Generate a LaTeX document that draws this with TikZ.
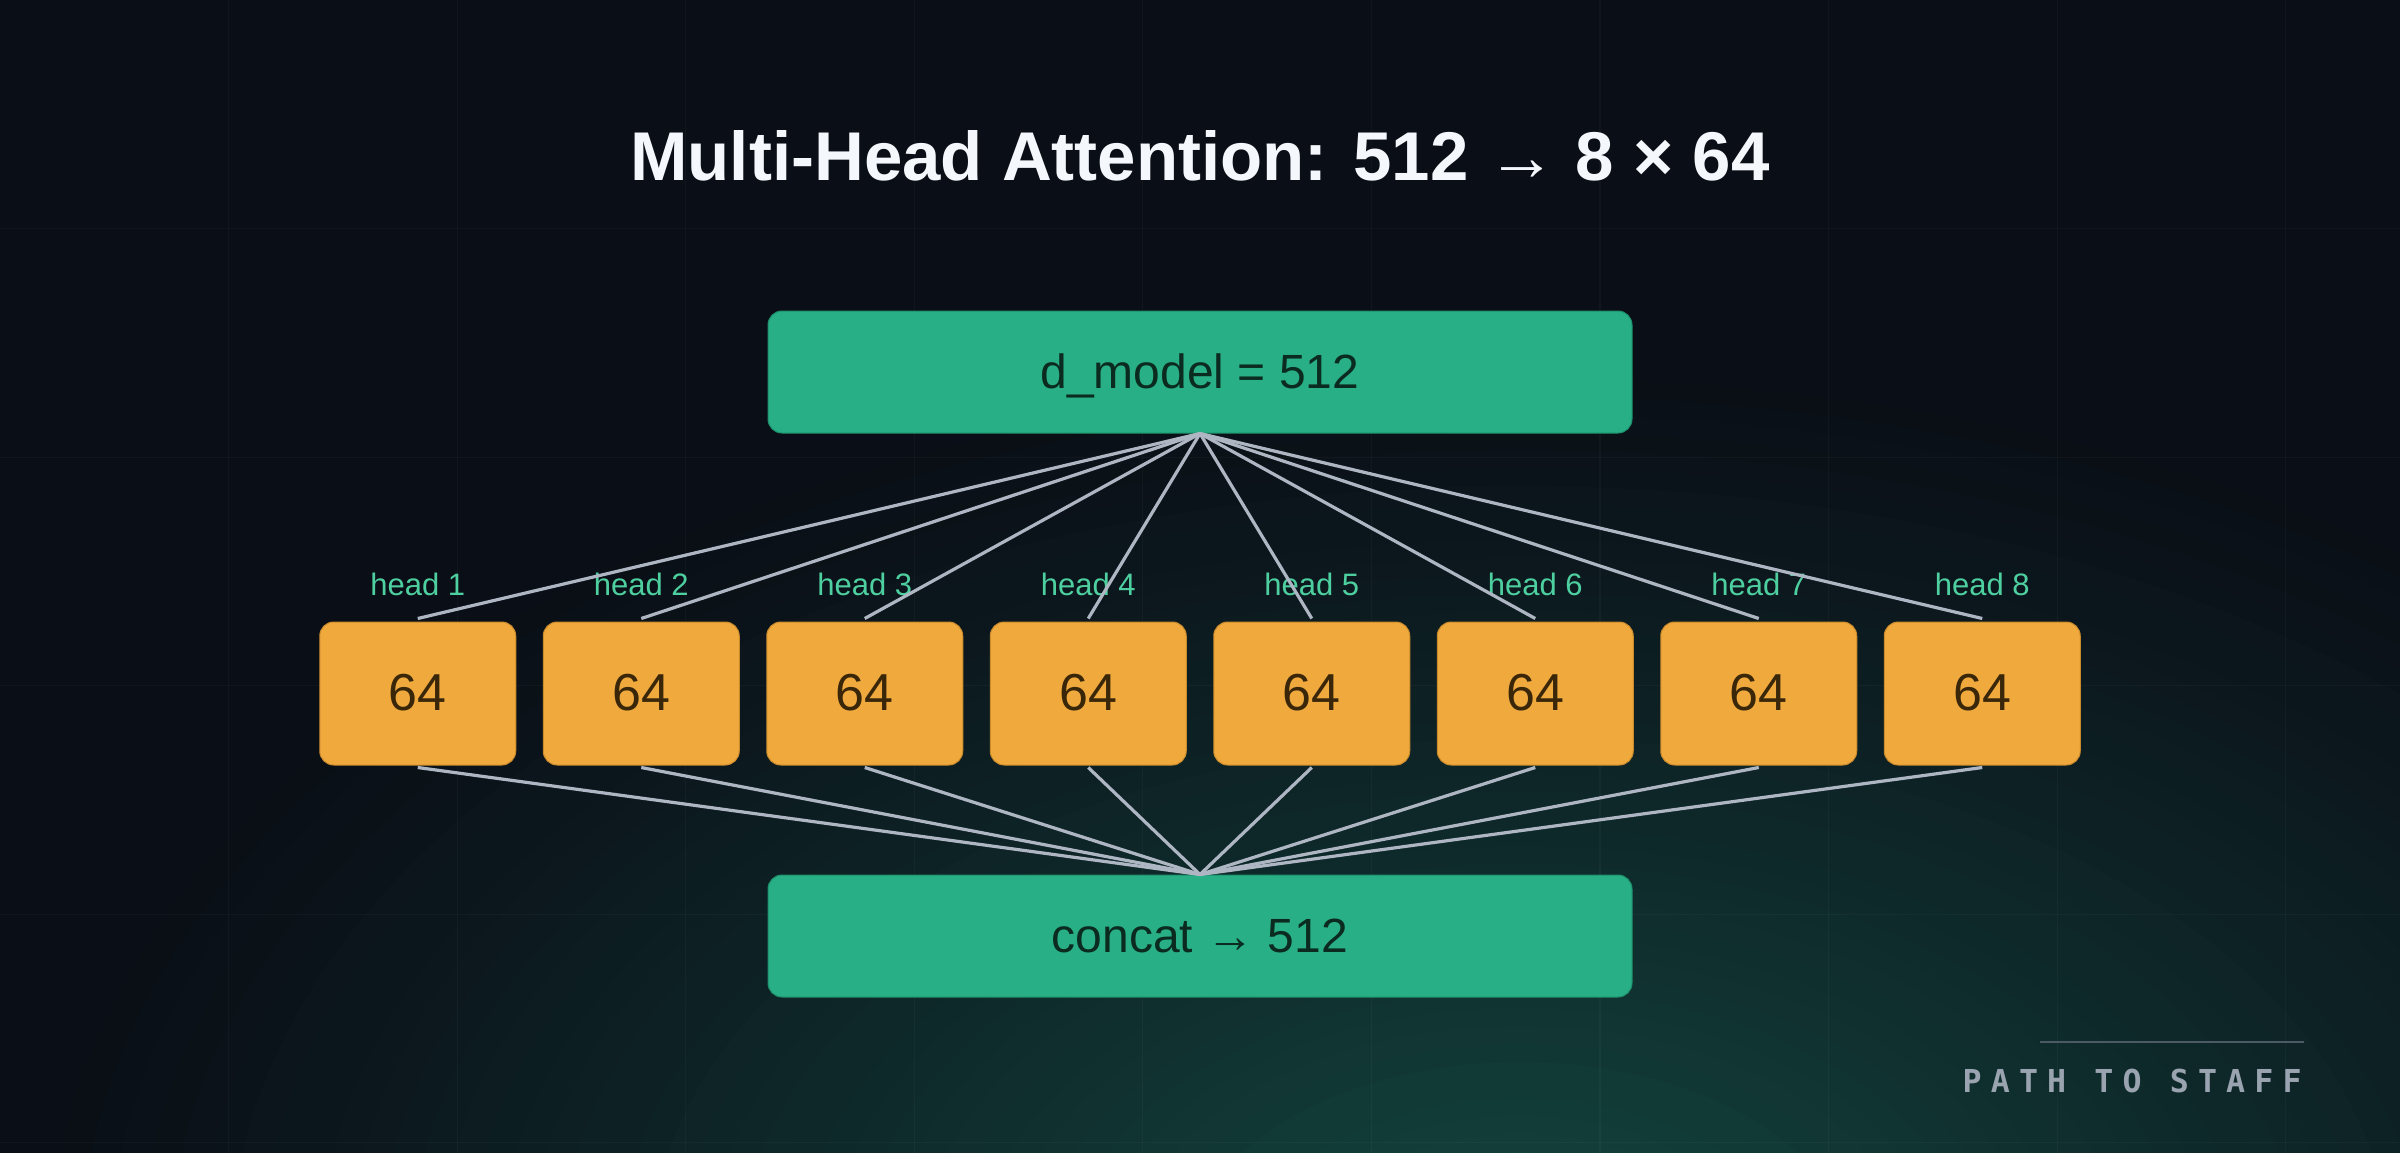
\documentclass[tikz,border=0pt]{standalone}
\usepackage{fontspec}
\setmainfont{Liberation Sans}
\newfontfamily\footfont[LetterSpace=29]{DejaVu Sans Mono}
\usetikzlibrary{calc}
\definecolor{bgc}{HTML}{0A0E16}
\definecolor{glowc}{HTML}{13463F}
\definecolor{greenbox}{HTML}{28AF85}
\definecolor{greenedge}{HTML}{1E8F6B}
\definecolor{greentext}{HTML}{0B2A20}
\definecolor{orangebox}{HTML}{F0A93D}
\definecolor{orangeedge}{HTML}{C98A2C}
\definecolor{orangetext}{HTML}{3A2709}
\definecolor{headlab}{HTML}{4ECFA0}
\definecolor{linkc}{HTML}{AEB6C3}
\definecolor{titlec}{HTML}{F4F7FB}
\definecolor{footc}{HTML}{9AA4B0}
\definecolor{footline}{HTML}{4B5A63}
\tikzset{
  gbox/.style={draw=greenedge, line width=0.5pt, fill=greenbox, rounded corners=7pt,
    minimum width=432pt, minimum height=61pt, inner sep=0pt,
    text=greentext, font=\fontsize{24pt}{28pt}\selectfont, text height=16pt, text depth=0pt},
  obox/.style={draw=orangeedge, line width=0.5pt, fill=orangebox, rounded corners=7pt,
    minimum width=98pt, minimum height=71.5pt, inner sep=0pt,
    text=orangetext, font=\fontsize{26pt}{30pt}\selectfont, text height=17pt, text depth=0pt},
  headlabel/.style={anchor=base, inner sep=0pt, text=headlab, font=\fontsize{15.5pt}{18pt}\selectfont},
  link/.style={draw=linkc, line width=1.6pt},
  gridline/.style={draw=white, opacity=0.03, line width=0.6pt}
}
\begin{document}
\begin{tikzpicture}[x=0.5pt, y=-0.5pt]
\useasboundingbox (0,0) rectangle (2400,1152);
\fill[bgc] (-20,-20) rectangle (2420,1172);
\begin{scope}
  \clip (-20,-20) rectangle (2420,1172);
  \foreach \s in {0,...,50} {
    \pgfmathsetmacro\rr{1-\s/50}
    \pgfmathsetmacro\pc{100*(\s/50)^1.1}
    \fill[glowc!\pc!bgc] (1520,1260) ellipse ({1500*\rr} and {900*\rr});
  }
  \foreach \k in {1,...,10} \draw[gridline] ({\k*228.57},-20) -- ({\k*228.57},1172);
  \foreach \k in {1,...,5} \draw[gridline] (-20,{\k*228.57}) -- (2420,{\k*228.57});
\end{scope}

\node[anchor=base, inner sep=0pt, text=titlec, font=\fontsize{34.5pt}{40pt}\selectfont\bfseries] (title) at (1200,180) {Multi-Head Attention: 512 → 8 × 64};

\node[gbox] (top) at (1200,372) {d\_model = 512};
\node[gbox] (bot) at (1200,936) {concat → 512};

\foreach \i in {1,...,8} {
  \node[obox] (h\i) at ({1200+(\i-4.5)*223.5},693.5) {64};
  \node[headlabel] (lab\i) at ({1200+(\i-4.5)*223.5},595) {head \i};
}
\foreach \i in {1,...,8} {
  \draw[link] (top.south) -- ([yshift=1.5pt]h\i.north);
  \draw[link] ([yshift=-1pt]h\i.south) -- (bot.north);
}

\coordinate (fl1) at (2040,1042);
\coordinate (fl2) at (2304,1042);
\draw[footline, line width=0.8pt] (fl1) -- (fl2);
\node[anchor=base east, inner sep=0pt, text=footc, font=\footfont\bfseries\fontsize{15.8pt}{18pt}\selectfont] (foot) at (2302,1092) {PATH TO STAFF};
\end{tikzpicture}
\end{document}
